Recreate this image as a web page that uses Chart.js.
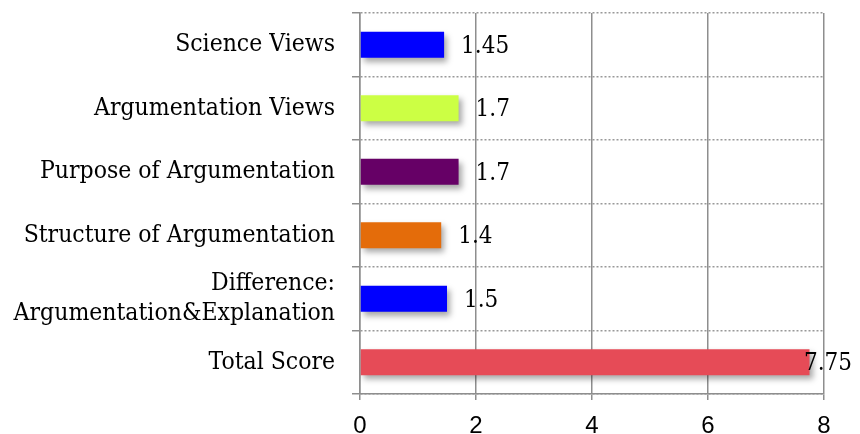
<!DOCTYPE html>
<html><head><meta charset="utf-8">
<script src="https://cdn.jsdelivr.net/npm/chart.js@4/dist/chart.umd.min.js"></script>
<style>html,body{margin:0;padding:0;background:#fff}#wrap{width:860px;height:434px}</style>
</head><body><div id="wrap"><canvas id="c" width="860" height="434"></canvas></div>
<script>
const categories = ["Science Views","Argumentation Views","Purpose of Argumentation","Structure of Argumentation",["Difference:","Argumentation&Explanation"],"Total Score"];
const scores = [1.45, 1.7, 1.7, 1.4, 1.5, 7.75];
const barColors = ["#0000FF","#CCFF44","#660066","#E46C0A","#0000FF","#E64B57"];
const xTicks = [0, 2, 4, 6, 8];

const SERIF = "'DejaVu Serif Condensed', 'DejaVu Serif', serif";
const SERIF_SIZE = 24.5;

const shadowPlugin = {
  id: 'shadow',
  beforeDatasetsDraw(chart) {
    const ctx = chart.ctx; ctx.save();
    ctx.shadowColor = 'rgba(0,0,0,0.35)';
    ctx.shadowBlur = 6; ctx.shadowOffsetX = 3; ctx.shadowOffsetY = 4;
  },
  afterDatasetsDraw(chart) {
    const ctx = chart.ctx; ctx.restore();
    const meta = chart.getDatasetMeta(0);
    ctx.save();
    ctx.font = "24px " + SERIF;
    ctx.fillStyle = '#000';
    ctx.textBaseline = 'middle';
    ctx.textAlign = 'left';
    meta.data.forEach((el, i) => {
      const txt = String(scores[i]);
      const w = ctx.measureText(txt).width;
      let x = el.x + 17;
      if (x + w > chart.width - 8) x = chart.width - 8 - w;
      ctx.fillText(txt, x, el.y + 2);
    });
    ctx.restore();
  }
};

new Chart(document.getElementById('c'), {
  type: 'bar',
  data: { labels: categories, datasets: [{ data: scores, backgroundColor: barColors, barPercentage: 0.41, categoryPercentage: 1 }] },
  options: {
    indexAxis: 'y', responsive: false, animation: false,
    layout: { padding: { top: 13, right: 36, bottom: 0, left: 0 } },
    plugins: { legend: { display: false }, tooltip: { enabled: false } },
    scales: {
      x: {
        min: 0, max: 8,
        afterBuildTicks(s) { s.ticks = xTicks.map(v => ({ value: v })); },
        afterFit(s) { s.height = 40; s.paddingLeft = 0; s.paddingRight = 0; },
        grid: { color: '#8e8e8e', lineWidth: 1.5, tickLength: 6 },
        border: { color: '#8e8e8e', width: 1.5 },
        ticks: { color: '#000', font: { family: "'Liberation Sans', Arial, sans-serif", size: 24 }, padding: 12 }
      },
      y: {
        offset: true,
        afterFit(s) { s.width = 360; s.paddingTop = 0; s.paddingBottom = 0; },
        grid: { offset: true, color: '#999', lineWidth: 1.5, tickLength: 8, tickColor: '#8e8e8e' },
        border: { color: '#8e8e8e', width: 1.5, dash: [2, 2] },
        ticks: { autoSkip: false, color: '#000', font: { family: SERIF, size: SERIF_SIZE, lineHeight: 1.24 }, padding: 17 }
      }
    }
  },
  plugins: [shadowPlugin]
});
</script></body></html>
